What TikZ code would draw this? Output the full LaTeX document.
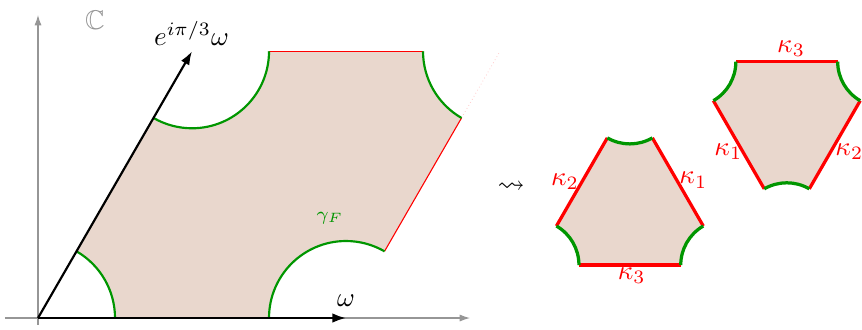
\documentclass[tikz,border=0pt]{standalone}
\usepackage{amssymb}
\usetikzlibrary{arrows.meta,calc}
\definecolor{fillc}{RGB}{233,215,205}
\definecolor{grn}{RGB}{0,150,0}
\definecolor{axg}{RGB}{150,150,150}
\tikzset{
  gedge/.style={grn,line width=0.8pt},
  redge/.style={red,line width=0.4pt},
  gedgeR/.style={grn,line width=1.2pt},
  redgeR/.style={red,line width=1.2pt},
  axis/.style={axg,line width=0.4pt,-{Latex[length=3.8pt,width=2.6pt]}},
  vec/.style={black,line width=0.8pt,-{Latex[length=5pt,width=3.5pt]}},
  lab/.style={inner sep=0pt},
  klab/.style={red,inner sep=0pt}
}
\begin{document}
\begin{tikzpicture}
\useasboundingbox (-0.4935,-0.1429) rectangle (10.701,4.1299);
\def\rr{0.585}
% lattice points
\coordinate (O) at (0,0);
\coordinate (W) at (4,0);
\coordinate (E) at (2,3.4641);
\coordinate (WE) at (6,3.4641);
\coordinate (xl) at (-0.43,0);
\coordinate (xr) at (5.61,0);
\coordinate (yb) at (0,-0.09);
\coordinate (yt) at (0,3.935);
% fundamental domain
\fill[fillc] (1,0) -- (3,0) arc[start angle=180,end angle=60,radius=1]
  -- ($(WE)+(240:1)$) arc[start angle=240,end angle=180,radius=1]
  -- (3,3.4641) arc[start angle=0,end angle=-120,radius=1]
  -- (0.5,0.866) arc[start angle=60,end angle=0,radius=1] -- cycle;
\draw[red!20,line width=0.3pt,densely dotted] ($(WE)+(240:1)$) -- (WE);
% axes
\draw[axis] (xl) -- (xr);
\draw[axis] (yb) -- (yt);
% edges
\draw[redge] (3,3.4641) -- (5,3.4641);
\draw[redge] (4.5,0.866) -- ($(WE)+(240:1)$);
% arcs
\draw[gedge] (1,0) arc[start angle=0,end angle=60,radius=1];
\draw[gedge] (3,0) arc[start angle=180,end angle=60,radius=1];
\draw[gedge] (3,3.4641) arc[start angle=0,end angle=-120,radius=1];
\draw[gedge] (5,3.4641) arc[start angle=180,end angle=240,radius=1];
% vectors
\draw[vec] (O) -- (W);
\draw[vec] (O) -- (E);
\node[lab,axg] (C) at (0.74,3.87) {$\mathbb{C}$};
\node[lab] (wl) at (4.0,0.22) {$\omega$};
\node[lab] (el) at (1.994,3.70) {$e^{i\pi/3}\omega$};
\node[lab,grn] (gl) at (3.79,1.30) {\scriptsize$\gamma_F$};
\node[lab] (sq) at (6.143,1.70) {$\rightsquigarrow$};
% left triangle
\coordinate (A) at (6.44,0.688);
\coordinate (B) at (8.932,0.688);
\coordinate (Cc) at (7.686,2.846);
\fill[fillc] ($(A)+(0:\rr)$) -- ($(B)+(180:\rr)$) arc[start angle=180,end angle=120,radius=\rr]
  -- ($(Cc)+(-60:\rr)$) arc[start angle=-60,end angle=-120,radius=\rr]
  -- ($(A)+(60:\rr)$) arc[start angle=60,end angle=0,radius=\rr] -- cycle;
\draw[redgeR] ($(A)+(0:\rr)$) -- ($(B)+(180:\rr)$);
\draw[redgeR] ($(B)+(120:\rr)$) -- ($(Cc)+(-60:\rr)$);
\draw[redgeR] ($(Cc)+(-120:\rr)$) -- ($(A)+(60:\rr)$);
\draw[gedgeR] ($(A)+(60:\rr)$) arc[start angle=60,end angle=0,radius=\rr];
\draw[gedgeR] ($(B)+(180:\rr)$) arc[start angle=180,end angle=120,radius=\rr];
\draw[gedgeR] ($(Cc)+(-60:\rr)$) arc[start angle=-60,end angle=-120,radius=\rr];
\node[klab] (k2a) at (6.844,1.77) {$\kappa_2$};
\node[klab] (k1a) at (8.51,1.79) {$\kappa_1$};
\node[klab] (k3a) at (7.71,0.545) {$\kappa_3$};
% right triangle
\coordinate (D) at (8.478,3.329);
\coordinate (F2) at (10.97,3.329);
\coordinate (G) at (9.724,1.171);
\fill[fillc] ($(D)+(0:\rr)$) -- ($(F2)+(180:\rr)$) arc[start angle=180,end angle=240,radius=\rr]
  -- ($(G)+(60:\rr)$) arc[start angle=60,end angle=120,radius=\rr]
  -- ($(D)+(-60:\rr)$) arc[start angle=-60,end angle=0,radius=\rr] -- cycle;
\draw[redgeR] ($(D)+(0:\rr)$) -- ($(F2)+(180:\rr)$);
\draw[redgeR] ($(F2)+(240:\rr)$) -- ($(G)+(60:\rr)$);
\draw[redgeR] ($(G)+(120:\rr)$) -- ($(D)+(-60:\rr)$);
\draw[gedgeR] ($(D)+(-60:\rr)$) arc[start angle=-60,end angle=0,radius=\rr];
\draw[gedgeR] ($(F2)+(180:\rr)$) arc[start angle=180,end angle=240,radius=\rr];
\draw[gedgeR] ($(G)+(60:\rr)$) arc[start angle=60,end angle=120,radius=\rr];
\node[klab] (k3b) at (9.779,3.50) {$\kappa_3$};
\node[klab] (k1b) at (8.965,2.16) {$\kappa_1$};
\node[klab] (k2b) at (10.536,2.16) {$\kappa_2$};
\end{tikzpicture}
\end{document}
